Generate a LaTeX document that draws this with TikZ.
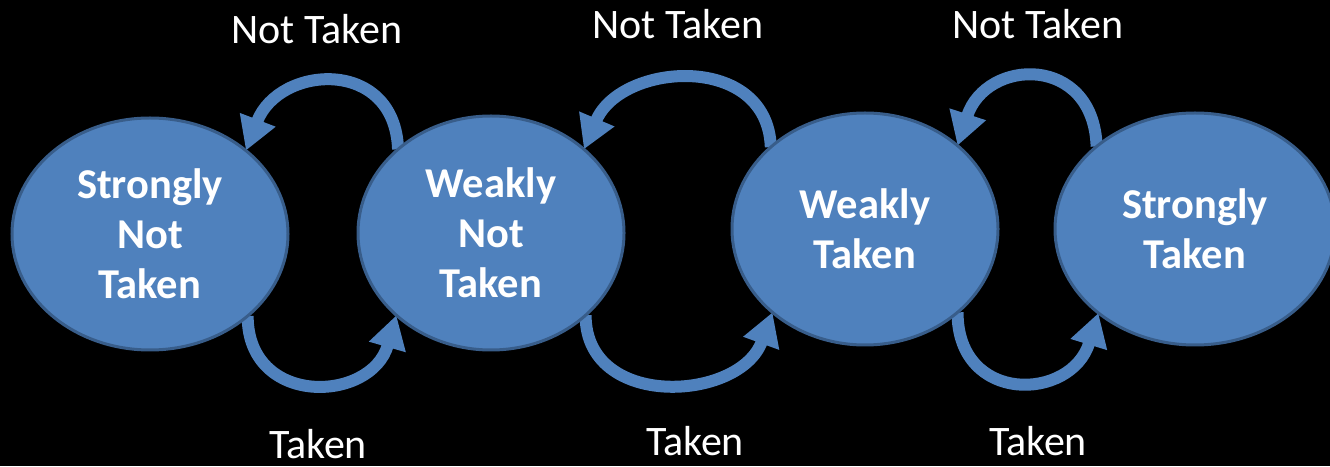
\documentclass[tikz,border=0pt]{standalone}
\usepackage{fontspec}
\setmainfont{Carlito}
\usetikzlibrary{shapes.geometric,arrows.meta}
\definecolor{fillblue}{HTML}{4F81BD}
\definecolor{edgeblue}{HTML}{385D8A}
\pgfdeclarelayer{bg}
\pgfsetlayers{bg,main}
\begin{document}
\begin{tikzpicture}[x=1pt,y=1pt,
  state/.style={ellipse, draw=edgeblue, line width=3pt, fill=fillblue, inner sep=0pt, outer sep=0pt,
    text=white, font=\fontsize{42.5}{50}\selectfont\bfseries, align=center},
  trans/.style={draw=fillblue, line width=12pt, -{Triangle[length=33pt,width=36pt]}},
  lbl/.style={text=white, font=\fontsize{42}{48}\selectfont, anchor=base, inner sep=0pt}]
\begin{pgfonlayer}{bg}
\fill[black] (0,0) rectangle (1330,466);
\end{pgfonlayer}
\useasboundingbox (0,0) rectangle (1330,466);
\node[state, minimum width=276pt, minimum height=232pt] (s1) at (150,232) {Strongly\\Not\\Taken};
\node[state, minimum width=266pt, minimum height=234pt] (w2) at (491,233) {Weakly\\Not\\Taken};
\node[state, minimum width=266pt, minimum height=232pt] (w3) at (865,237) {Weakly\\Taken};
\node[state, minimum width=280pt, minimum height=232pt] (s4) at (1195,237) {Strongly\\Taken};
\node[lbl] (l1) at (317,422) {Not Taken};
\node[lbl] (l2) at (678,427) {Not Taken};
\node[lbl] (l3) at (1038,427) {Not Taken};
\node[lbl] (l4) at (318,8) {Taken};
\node[lbl] (l5) at (695,11) {Taken};
\node[lbl] (l6) at (1038,11) {Taken};
\begin{pgfonlayer}{bg}
\draw[trans] (w2.138) to[out=92,in=69,looseness=1.55] (s1.41);
\draw[trans] (s1.320) to[out=270,in=254,looseness=1.57] (w2.221);
\draw[trans] (w3.139) to[out=92,in=67,looseness=1.3] (w2.42);
\draw[trans] (w2.319) to[out=270,in=250,looseness=1.3] (w3.222);
\draw[trans] (s4.140) to[out=92,in=72,looseness=1.7] (w3.42);
\draw[trans] (w3.318) to[out=270,in=253,looseness=1.68] (s4.221);
\end{pgfonlayer}
\end{tikzpicture}
\end{document}
